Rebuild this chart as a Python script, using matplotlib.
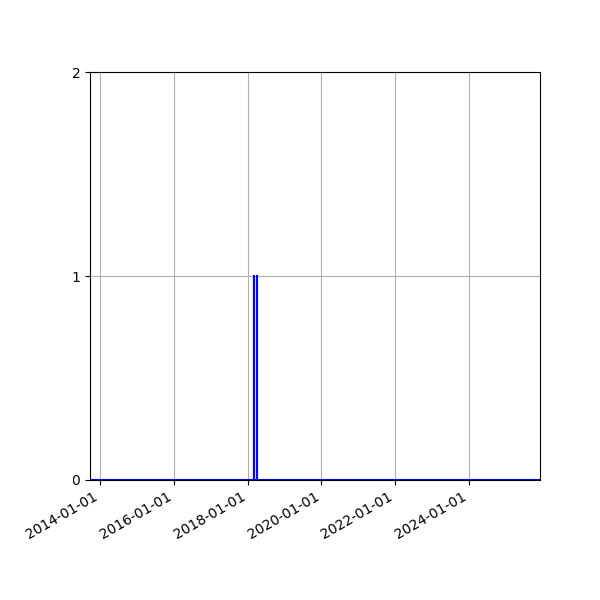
import matplotlib
matplotlib.use("Agg")
import matplotlib.pyplot as plt
import matplotlib.dates as mdates
import pandas as pd

dates = ["2013-09-24", "2018-03-01", "2018-03-02", "2018-03-03",
         "2018-03-31", "2018-04-01", "2018-04-02", "2025-12-05"]
values = [0, 0, 1, 0, 0, 1, 0, 0]
x_start = "2013-09-24"
x_end = "2025-12-05"
y_ticks = [0, 1, 2]

d = pd.to_datetime(dates)
fig, ax = plt.subplots(figsize=(6, 6), dpi=100)
ax.plot(d, values, color="blue", linewidth=1.5, drawstyle="steps-post")
ax.set_xlim(pd.Timestamp(x_start), pd.Timestamp(x_end))
ax.set_ylim(0, 2)
ax.set_yticks(y_ticks)
ax.xaxis.set_major_locator(mdates.YearLocator(2))
ax.xaxis.set_major_formatter(mdates.DateFormatter("%Y-%m-%d"))
ax.grid(True)
fig.autofmt_xdate()
fig.subplots_adjust(left=0.15, right=0.9, top=0.88, bottom=0.2)
fig.savefig("out.png", dpi=100)
